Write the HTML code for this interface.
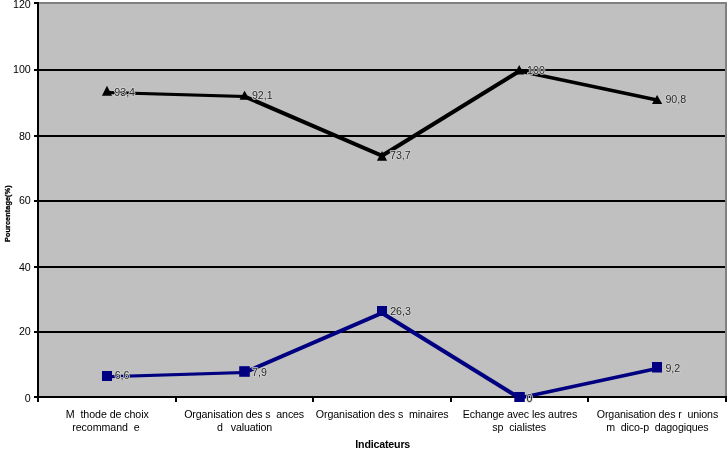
<!DOCTYPE html>
<html lang="fr"><head><meta charset="utf-8"><title>Indicateurs</title>
<style>html,body{margin:0;padding:0;background:#fff}body{width:727px;height:452px;overflow:hidden}svg{display:block}text{font-family:"Liberation Sans",Arial,sans-serif;font-size:10.67px;fill:#000}.h{visibility:hidden}.dl{fill:#2a2a2a;paint-order:stroke;stroke:#d2d2d2;stroke-width:1.6px;stroke-linejoin:round}.b{font-weight:bold}</style></head><body>
<svg width="727" height="452" viewBox="0 0 727 452">
<rect x="0" y="0" width="727" height="452" fill="#fff"/>
<rect x="38" y="2" width="689" height="395" fill="#c0c0c0"/>
<rect x="38" y="2" width="689" height="2" fill="#808080"/>
<rect x="725" y="2" width="2" height="395" fill="#808080"/>
<rect x="39" y="69" width="686" height="2" fill="#000"/>
<rect x="39" y="135" width="686" height="2" fill="#000"/>
<rect x="39" y="200" width="686" height="2" fill="#000"/>
<rect x="39" y="266" width="686" height="2" fill="#000"/>
<rect x="39" y="331" width="686" height="2" fill="#000"/>
<rect x="37" y="2" width="2" height="400" fill="#000"/>
<rect x="37" y="396" width="690" height="2" fill="#000"/>
<rect x="34" y="2" width="4" height="2" fill="#000"/>
<rect x="34" y="69" width="4" height="2" fill="#000"/>
<rect x="34" y="135" width="4" height="2" fill="#000"/>
<rect x="34" y="200" width="4" height="2" fill="#000"/>
<rect x="34" y="266" width="4" height="2" fill="#000"/>
<rect x="34" y="331" width="4" height="2" fill="#000"/>
<rect x="34" y="396" width="4" height="2" fill="#000"/>
<rect x="175" y="396" width="2" height="6" fill="#000"/>
<rect x="312" y="396" width="2" height="6" fill="#000"/>
<rect x="450" y="396" width="2" height="6" fill="#000"/>
<rect x="587" y="396" width="2" height="6" fill="#000"/>
<rect x="725" y="396" width="2" height="6" fill="#000"/>
<text x="30.8" y="7.6" text-anchor="end">120</text>
<text x="30.8" y="73.2" text-anchor="end">100</text>
<text x="30.8" y="139.7" text-anchor="end">80</text>
<text x="30.8" y="204.3" text-anchor="end">60</text>
<text x="30.8" y="270.65" text-anchor="end">40</text>
<text x="30.8" y="335.2" text-anchor="end">20</text>
<text x="30.8" y="401.6" text-anchor="end">0</text>
<polygon points="105.50,375.30 242.90,371.10 245.90,371.10 245.90,374.10 108.50,378.30 105.50,378.30" fill="#000080"/>
<polygon points="242.90,371.10 380.50,311.60 383.50,311.60 383.50,314.60 245.90,374.10 242.90,374.10" fill="#000080"/>
<polygon points="380.50,311.60 383.50,311.60 521.00,396.50 521.00,399.50 518.00,399.50 380.50,314.60" fill="#000080"/>
<polygon points="518.00,396.50 655.50,366.90 658.50,366.90 658.50,369.90 521.00,399.50 518.00,399.50" fill="#000080"/>
<polygon points="105.50,90.90 108.50,90.90 246.00,94.90 246.00,97.90 243.00,97.90 105.50,93.90" fill="#000"/>
<polygon points="243.00,94.90 246.00,94.90 383.50,154.30 383.50,157.30 380.50,157.30 243.00,97.90" fill="#000"/>
<polygon points="380.50,154.30 518.00,69.50 521.00,69.50 521.00,72.50 383.50,157.30 380.50,157.30" fill="#000"/>
<polygon points="518.00,69.50 521.00,69.50 658.50,98.40 658.50,101.40 655.50,101.40 518.00,72.50" fill="#000"/>
<rect x="102" y="371" width="10" height="10" fill="#000080"/>
<rect x="239.2" y="366.2" width="10.6" height="10.6" fill="#000080"/>
<rect x="377" y="306" width="10" height="10" fill="#000080"/>
<rect x="514.3" y="392" width="10.5" height="10" fill="#000080"/>
<rect x="652" y="362" width="10" height="10.5" fill="#000080"/>
<polygon points="107,85.8 112.1,95.8 101.9,95.8" fill="#000"/>
<polygon points="244.6,90.7 249.7,99.8 239.5,99.8" fill="#000"/>
<polygon points="382,151 387.1,160.8 376.9,160.8" fill="#000"/>
<polygon points="519.2,65 524.3,74.5 514.1,74.5" fill="#000"/>
<polygon points="657.1,95 662.2,103.9 652.0,103.9" fill="#000"/>
<text class="dl" x="114.7" y="379.2">6,6</text>
<text class="dl" x="252.1" y="375.6">7,9</text>
<text class="dl" x="390.2" y="315.4">26,3</text>
<text class="dl" x="526.6" y="401.8">0</text>
<text class="dl" x="665.4" y="371.9">9,2</text>
<text class="dl" x="114.3" y="95.9">93,4</text>
<text class="dl" x="251.9" y="99.4">92,1</text>
<text class="dl" x="390.0" y="159.3">73,7</text>
<text class="dl" x="527.1" y="73.6">100</text>
<text class="dl" x="665.4" y="103.2">90,8</text>
<text x="107.3" y="418" text-anchor="middle" textLength="83" lengthAdjust="spacing">M<tspan class="h">é</tspan>thode de choix</text>
<text x="106.0" y="431" text-anchor="middle" textLength="67.5" lengthAdjust="spacing">recommand<tspan class="h">é</tspan>e</text>
<text x="244.2" y="418" text-anchor="middle" textLength="120" lengthAdjust="spacing">Organisation des s<tspan class="h">é</tspan>ances</text>
<text x="244.6" y="431" text-anchor="middle" textLength="55" lengthAdjust="spacing">d<tspan class="h">’é</tspan>valuation</text>
<text x="382.2" y="418" text-anchor="middle" textLength="133" lengthAdjust="spacing">Organisation des s<tspan class="h">é</tspan>minaires</text>
<text x="520.0" y="418" text-anchor="middle" textLength="114.5" lengthAdjust="spacing">Echange avec les autres</text>
<text x="519.2" y="431" text-anchor="middle" textLength="53.7" lengthAdjust="spacing">sp<tspan class="h">é</tspan>cialistes</text>
<text x="657.5" y="418" text-anchor="middle" textLength="121.5" lengthAdjust="spacing">Organisation des r<tspan class="h">é</tspan>unions</text>
<text x="657.4" y="431" text-anchor="middle" textLength="102.5" lengthAdjust="spacing">m<tspan class="h">é</tspan>dico-p<tspan class="h">é</tspan>dagogiques</text>
<text class="b" x="382.8" y="447.8" text-anchor="middle" textLength="55">Indicateurs</text>
<text class="b" style="font-size:7.2px;stroke:#000;stroke-width:0.3px" transform="translate(10.1,242) rotate(-90)" textLength="56.6">Pourcentage(%)</text>
</svg></body></html>
